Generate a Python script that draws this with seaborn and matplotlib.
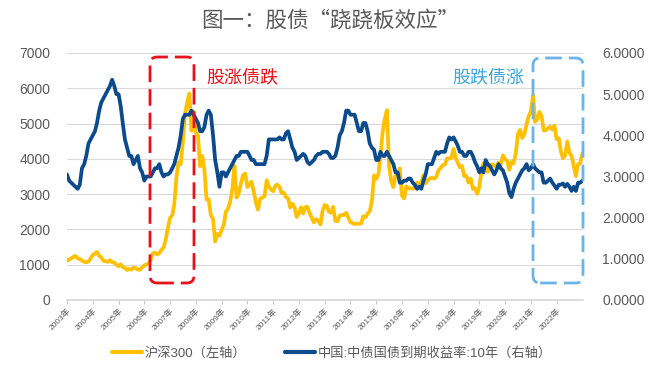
import pandas as pd
import matplotlib.pyplot as plt
import seaborn as sns
from matplotlib.patches import FancyBboxPatch
from matplotlib.lines import Line2D
import matplotlib.ticker as mticker

# monthly readings, Jan 2003 .. Jan 2023
csi300 = [
    1110, 1150, 1180, 1220, 1250, 1180, 1160, 1120, 1080, 1070, 1090, 1180,   # 2003
    1270, 1320, 1360, 1250, 1210, 1110, 1100, 1080, 1130, 1070, 1060, 1000,   # 2004
    960, 1010, 930, 910, 850, 880, 860, 920, 900, 860, 860, 920,              # 2005
    980, 1010, 1020, 1140, 1320, 1340, 1290, 1330, 1420, 1490, 1720, 2040,    # 2006
    2330, 2400, 2710, 3470, 3900, 3850, 4470, 5290, 5600, 5850, 4800, 5340,   # 2007
    4750, 4660, 3790, 4080, 3700, 2850, 2850, 2400, 2290, 1660, 1870, 1820,   # 2008
    1990, 2140, 2500, 2590, 2780, 3130, 3800, 2900, 3030, 3300, 3540, 3580,   # 2009
    3200, 3280, 3350, 3070, 2760, 2560, 2870, 2900, 2940, 3390, 3210, 3130,   # 2010
    3080, 3240, 3270, 3210, 3030, 3040, 2920, 2880, 2620, 2730, 2620, 2350,   # 2011
    2460, 2630, 2450, 2630, 2640, 2460, 2330, 2200, 2290, 2250, 2140, 2520,   # 2012
    2690, 2670, 2500, 2470, 2640, 2240, 2230, 2390, 2410, 2410, 2470, 2330,   # 2013
    2200, 2180, 2150, 2160, 2160, 2170, 2370, 2340, 2450, 2510, 2810, 3530,   # 2014
    3430, 3570, 4050, 4750, 5120, 5380, 3820, 3370, 3200, 3530, 3570, 3730,   # 2015
    2950, 2880, 3220, 3160, 3170, 3150, 3200, 3330, 3250, 3340, 3540, 3310,   # 2016
    3390, 3450, 3460, 3440, 3490, 3670, 3740, 3820, 3840, 4010, 4010, 4030,   # 2017
    4280, 4020, 3900, 3760, 3800, 3510, 3520, 3330, 3440, 3150, 3170, 3010,   # 2018
    3200, 3670, 3870, 3910, 3630, 3830, 3840, 3800, 3810, 3890, 3830, 4100,   # 2019
    3990, 3940, 3690, 3910, 3870, 4160, 4700, 4820, 4590, 4700, 4980, 5210,   # 2020
    5350, 5800, 5050, 5120, 5330, 5220, 4810, 4810, 4870, 4910, 4830, 4940,   # 2021
    4560, 4580, 4220, 4020, 4090, 4490, 4170, 4080, 3800, 3510, 3850, 3870,   # 2022
    4160,                                                                       # 2023
]

bond10y = [
    3.05, 2.90, 2.85, 2.80, 2.75, 2.70, 2.80, 3.20, 3.30, 3.50, 3.80, 3.90,   # 2003
    4.00, 4.10, 4.30, 4.60, 4.80, 4.90, 5.00, 5.10, 5.20, 5.35, 5.20, 5.00,   # 2004
    5.00, 4.70, 4.30, 3.90, 3.70, 3.50, 3.50, 3.30, 3.40, 3.50, 3.20, 3.10,   # 2005
    2.90, 3.00, 3.00, 3.00, 3.10, 3.20, 3.20, 3.30, 3.10, 3.00, 3.05, 3.05,   # 2006
    3.10, 3.20, 3.30, 3.50, 3.70, 4.00, 4.40, 4.50, 4.50, 4.50, 4.60, 4.50,   # 2007
    4.40, 4.30, 4.10, 4.10, 4.20, 4.50, 4.60, 4.50, 4.00, 3.40, 3.10, 2.75,   # 2008
    3.10, 3.10, 3.00, 3.10, 3.20, 3.30, 3.40, 3.50, 3.50, 3.60, 3.60, 3.60,   # 2009
    3.60, 3.50, 3.40, 3.40, 3.30, 3.30, 3.30, 3.30, 3.30, 3.50, 3.90, 3.90,   # 2010
    3.90, 3.90, 3.90, 3.95, 3.90, 3.90, 4.05, 4.10, 3.90, 3.70, 3.60, 3.40,   # 2011
    3.45, 3.50, 3.55, 3.50, 3.35, 3.30, 3.35, 3.40, 3.50, 3.55, 3.55, 3.60,   # 2012
    3.60, 3.60, 3.55, 3.45, 3.45, 3.50, 3.70, 4.00, 4.10, 4.30, 4.60, 4.60,   # 2013
    4.50, 4.50, 4.50, 4.30, 4.10, 4.10, 4.30, 4.30, 4.10, 3.80, 3.70, 3.65,   # 2014
    3.40, 3.40, 3.60, 3.50, 3.50, 3.60, 3.50, 3.40, 3.30, 3.10, 3.10, 2.85,   # 2015
    2.85, 2.90, 2.90, 2.95, 2.95, 2.85, 2.80, 2.70, 2.75, 2.70, 2.90, 3.05,   # 2016
    3.30, 3.30, 3.30, 3.45, 3.60, 3.55, 3.60, 3.60, 3.60, 3.80, 3.95, 3.90,   # 2017
    3.95, 3.85, 3.75, 3.60, 3.60, 3.50, 3.50, 3.60, 3.60, 3.50, 3.35, 3.25,   # 2018
    3.10, 3.20, 3.10, 3.40, 3.30, 3.25, 3.15, 3.05, 3.15, 3.30, 3.20, 3.15,   # 2019
    3.00, 2.85, 2.60, 2.50, 2.70, 2.85, 2.95, 3.05, 3.15, 3.20, 3.30, 3.15,   # 2020
    3.20, 3.30, 3.20, 3.15, 3.10, 3.10, 2.85, 2.85, 2.90, 2.95, 2.85, 2.78,   # 2021
    2.70, 2.80, 2.80, 2.83, 2.75, 2.82, 2.75, 2.65, 2.75, 2.65, 2.85, 2.85,   # 2022
    2.90,                                                                       # 2023
]

dates = pd.date_range('2003-01-01', periods=len(csi300), freq='MS')
year_ticks = list(range(2003, 2023))
year_labels = [f'{y}年' for y in year_ticks]

df = pd.DataFrame({'date': dates, 'csi300': csi300, 'bond10y': bond10y})

sns.set_theme(style='white')
plt.rcParams['font.family'] = ['Liberation Sans', 'Noto Sans CJK SC', 'DejaVu Sans']

yellow = '#FFC000'
navy = '#0B4A8B'
gray = '#595959'
cjk = ['Noto Sans CJK SC', 'DejaVu Sans']

fig = plt.figure(figsize=(6.55, 3.68), dpi=100)
ax1 = fig.add_axes([0.1023, 0.1848, 0.7878, 0.6712])
ax2 = ax1.twinx()

sns.lineplot(data=df, x='date', y='csi300', ax=ax1, color=yellow, lw=2.7)
sns.lineplot(data=df, x='date', y='bond10y', ax=ax2, color=navy, lw=2.7)

ax1.set_ylim(0, 7000)
ax1.set_yticks(range(0, 7001, 1000))
ax2.set_ylim(0, 6)
ax2.set_yticks(range(0, 7))
ax2.yaxis.set_major_formatter(mticker.FormatStrFormatter('%.4f'))
ax1.set_xlim(pd.Timestamp('2003-01-01'), pd.Timestamp('2023-01-10'))

ax1.set_xticks([pd.Timestamp(f'{y}-01-01') for y in year_ticks])
ax1.set_xticklabels(year_labels, rotation=45, ha='right', rotation_mode='anchor',
                    fontsize=6, color=gray)
ax1.tick_params(axis='x', length=3, width=0.6, color='#bfbfbf', pad=2, bottom=True)
ax1.tick_params(axis='y', length=0, pad=12, labelsize=10, labelcolor=gray)
ax2.tick_params(axis='y', length=0, pad=14, labelsize=10, labelcolor=gray)

ax1.grid(axis='y', color='#d9d9d9', lw=0.8)
ax1.grid(axis='x', visible=False)
ax2.grid(False)
for a in (ax1, ax2):
    for s in a.spines.values():
        s.set_visible(False)
    a.set_xlabel('')
    a.set_ylabel('')
ax1.spines['bottom'].set_visible(True)
ax1.spines['bottom'].set_color('#d9d9d9')

fig.text(0.504, 0.943, '图一：股债“跷跷板效应”', ha='center', va='center',
         fontsize=15.5, color=gray, family=cjk)

W, H = 655, 368


def px_box(x0, y0, x1, y1, color):
    box = FancyBboxPatch((x0 / W, 1 - y1 / H), (x1 - x0) / W, (y1 - y0) / H,
                         boxstyle='round,pad=0,rounding_size=0.011',
                         mutation_aspect=W / H, transform=fig.transFigure,
                         fill=False, ec=color, lw=2, ls=(0, (6, 2.5)), zorder=10)
    fig.add_artist(box)


px_box(150, 57, 194, 283, '#E8101A')
px_box(533, 58, 583, 283, '#6CB4E6')
fig.text(242 / W, 1 - 77 / H, '股涨债跌', ha='center', va='center',
         fontsize=13, color='#E8101A', family=cjk)
fig.text(488 / W, 1 - 77 / H, '股跌债涨', ha='center', va='center',
         fontsize=13, color='#3FA6D9', family=cjk)

handles = [Line2D([], [], color=yellow, lw=3), Line2D([], [], color=navy, lw=3)]
fig.legend(handles, ['沪深300（左轴）', '中国:中债国债到期收益率:10年（右轴）'],
           loc='center', bbox_to_anchor=(332 / W, 1 - 353 / H), ncol=2,
           frameon=False, fontsize=9.5, labelcolor=gray, handlelength=2.3,
           handletextpad=0.2, columnspacing=2.9)

fig.savefig('out.png', dpi=100)
